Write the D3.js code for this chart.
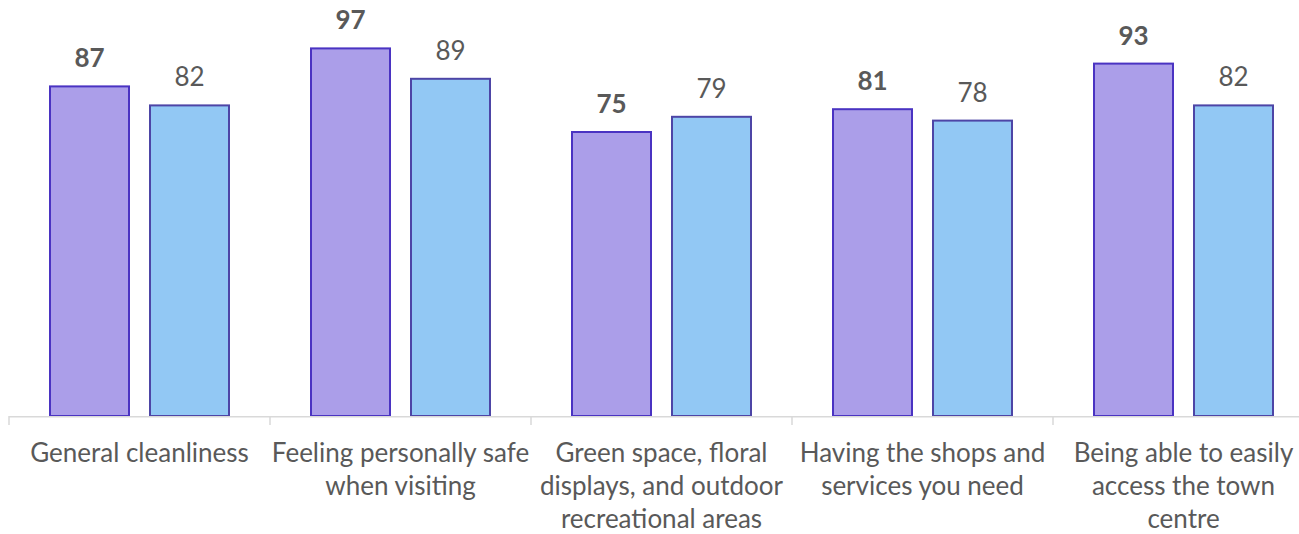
<!DOCTYPE html>
<html>
<head>
<meta charset="utf-8">
<script src="https://cdn.jsdelivr.net/npm/d3@7"></script>
<style>
  html, body { margin: 0; padding: 0; background: #ffffff; }
  svg { display: block; font-family: Lato, "Open Sans", sans-serif; }
</style>
</head>
<body>
<svg id="chart" width="1299" height="534"></svg>
<script>
// Category labels, one entry per line of text
const categories = [
  ["General cleanliness"],
  ["Feeling personally safe", "when visiting"],
  ["Green space, floral", "displays, and outdoor", "recreational areas"],
  ["Having the shops and", "services you need"],
  ["Being able to easily", "access the town", "centre"]
];
const seriesNames = ["current", "previous"];
const currentValues = [87, 97, 75, 81, 93];
const previousValues = [82, 89, 79, 78, 82];

const fills = ["#ab9ee9", "#92c8f4"];
const strokes = ["#4a33c2", "#4d45a6"];
const textColor = "#595959";

const svg = d3.select("#chart");
const W = 1299, H = 534;
const left = 9, band = 261;
const baseY = 416, topY = 36;

const x = d3.scaleBand()
  .domain(d3.range(categories.length))
  .range([left, left + band * categories.length])
  .padding(0);

const xInner = d3.scaleBand()
  .domain(seriesNames)
  .range([0, x.bandwidth()])
  .paddingInner(0.19)
  .paddingOuter(0.4);

const y = d3.scaleLinear().domain([0, 100]).range([baseY, topY]);

const series = [currentValues, previousValues];

// Bars
const groups = svg.append("g").selectAll("g")
  .data(categories.map((c, i) => i))
  .join("g")
  .attr("transform", i => `translate(${x(i)},0)`);

groups.selectAll("rect")
  .data(i => seriesNames.map((s, k) => ({ s, k, v: series[k][i] })))
  .join("rect")
  .attr("x", d => xInner(d.s) + 1)
  .attr("y", d => y(d.v) + 1)
  .attr("width", xInner.bandwidth() - 2)
  .attr("height", d => baseY - y(d.v) - 1)
  .attr("fill", d => fills[d.k])
  .attr("stroke", d => strokes[d.k])
  .attr("stroke-width", 2);

// Value labels
groups.selectAll("text.val")
  .data(i => seriesNames.map((s, k) => ({ s, k, v: series[k][i] })))
  .join("text")
  .attr("class", "val")
  .attr("x", d => xInner(d.s) + xInner.bandwidth() / 2)
  .attr("y", d => y(d.v) - 18)
  .attr("text-anchor", "middle")
  .attr("font-size", 26)
  .attr("font-weight", d => d.k === 0 ? 700 : 400)
  .attr("fill", textColor)
  .text(d => d.v);

// Category axis
const axis = svg.append("g");
axis.append("line")
  .attr("x1", left).attr("x2", W)
  .attr("y1", baseY + 0.75).attr("y2", baseY + 0.75)
  .attr("stroke", "#d9d9d9").attr("stroke-width", 1.5);

const boundaries = categories.map((c, i) => x(i)).concat([x.range()[1]]);
axis.selectAll("line.tick")
  .data(boundaries)
  .join("line")
  .attr("class", "tick")
  .attr("x1", d => d).attr("x2", d => d)
  .attr("y1", baseY).attr("y2", baseY + 9)
  .attr("stroke", "#d9d9d9").attr("stroke-width", 1.5);

const labels = axis.selectAll("text.cat")
  .data(categories.map((c, i) => ({ lines: c, i })))
  .join("text")
  .attr("class", "cat")
  .attr("text-anchor", "middle")
  .attr("font-size", 26)
  .attr("fill", textColor);

labels.selectAll("tspan")
  .data(d => d.lines.map(l => ({ l, i: d.i })))
  .join("tspan")
  .attr("x", d => x(d.i) + x.bandwidth() / 2)
  .attr("y", (d, j) => 462 + j * 33)
  .text(d => d.l);
</script>
</body>
</html>
